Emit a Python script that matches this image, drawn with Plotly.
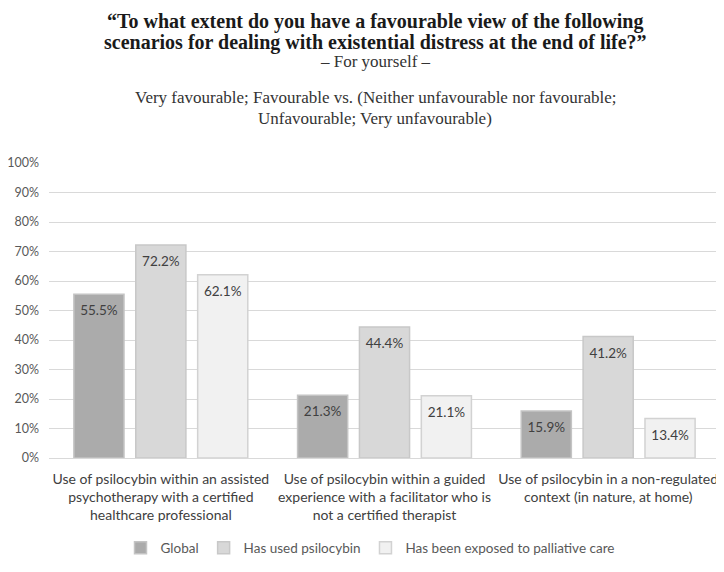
import plotly.graph_objects as go

categories = [
    "Use of psilocybin within an assisted<br>psychotherapy with a certified<br>healthcare professional",
    "Use of psilocybin within a guided<br>experience with a facilitator who is<br>not a certified therapist",
    "Use of psilocybin in a non-regulated<br>context (in nature, at home)",
]
series_names = ["Global", "Has used psilocybin", "Has been exposed to palliative care"]
global_vals = [55.5, 21.3, 15.9]
used_vals = [72.2, 44.4, 41.2]
palliative_vals = [62.1, 21.1, 13.4]
tick_vals = [0, 10, 20, 30, 40, 50, 60, 70, 80, 90, 100]
tick_text = [f"{v}%" for v in tick_vals]

fills = ["#ababab", "#d8d8d8", "#f1f1f1"]
borders = ["#c4c4c4", "#c8c8c8", "#d2d2d2"]
all_vals = [global_vals, used_vals, palliative_vals]

# page has an 8px body margin: figure is drawn 8px in from the window edge
W, H = 716, 564
L, R, T, B = 41, 4, 155, 114
pw, ph = W - L - R, H - T - B

fig = go.Figure()
for i, (name, vals, fc, bc) in enumerate(zip(series_names, all_vals, fills, borders)):
    fig.add_trace(go.Bar(
        name=name, x=categories, y=vals, offsetgroup=str(i),
        marker=dict(color=fc, line=dict(color=bc, width=1.5)),
        hoverinfo="skip",
    ))
for i, vals in enumerate(all_vals):
    fig.add_trace(go.Scatter(
        x=categories, y=vals, offsetgroup=str(i), mode="markers+text",
        marker=dict(size=16, opacity=0),
        text=[f"{v:.1f}%" for v in vals], textposition="bottom center",
        textfont=dict(family="Lato, Noto Sans, sans-serif", size=13.5, color="#404040"),
        showlegend=False, hoverinfo="skip", cliponaxis=False,
    ))

fig.update_layout(
    width=W, height=H, autosize=False,
    paper_bgcolor="white", plot_bgcolor="white",
    margin=dict(l=L, r=R, t=T, b=B, autoexpand=False),
    barmode="group", bargap=0.17, bargroupgap=0.19,
    scattermode="group", scattergap=0.17,
    font=dict(family="Lato, Noto Sans, sans-serif", size=13, color="#595959"),
    showlegend=True,
    legend=dict(orientation="h", x=(370 - 8 - L) / pw, xanchor="center",
                y=-(548 - 458) / ph, yanchor="middle",
                font=dict(size=13.5, color="#595959"), traceorder="normal"),
    yaxis=dict(range=[0, 100], tickvals=tick_vals, ticktext=tick_text, showgrid=True,
               gridcolor="#d9d9d9", gridwidth=1, zeroline=False, showline=False,
               ticks="", ticklabelstandoff=9, tickfont=dict(size=12.5, color="#595959"),
               automargin=False, fixedrange=True),
    xaxis=dict(showline=True, linecolor="#d9d9d9", linewidth=1, ticks="", tickangle=0,
               ticklabelstandoff=8, tickfont=dict(size=14, color="#404040"), automargin=False),
)

title_font = dict(family="Liberation Serif, Times New Roman, serif", size=20, color="#1a1a1a")
sub_font = dict(family="Liberation Serif, Times New Roman, serif", size=17, color="#333333")
annots = [
    ("<b>\u201cTo what extent do you have a favourable view of the following</b>", 21, title_font),
    ("<b>scenarios for dealing with existential distress at the end of life?\u201d</b>", 42, title_font),
    ("\u2013 For yourself \u2013", 61, sub_font),
    ("Very favourable; Favourable vs. (Neither unfavourable nor favourable;", 98, sub_font),
    ("Unfavourable; Very unfavourable)", 119, sub_font),
]
for txt, ypx, f in annots:
    fig.add_annotation(text=txt, xref="paper", yref="paper", x=(375 - 8 - L) / pw,
                       xanchor="center", y=1 + (163 - ypx) / ph, yanchor="middle",
                       showarrow=False, font=f)

fig.write_html("out.html")
